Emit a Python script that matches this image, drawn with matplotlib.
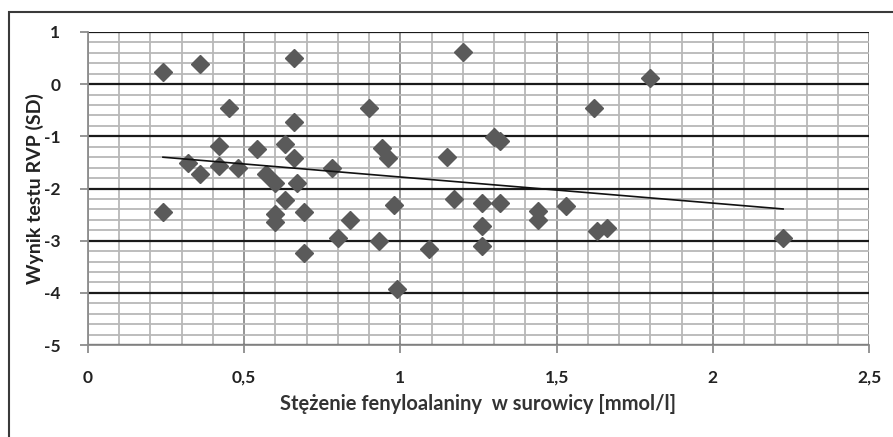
import numpy as np
import matplotlib
matplotlib.use("Agg")
import matplotlib.pyplot as plt
from matplotlib.patches import Rectangle
from matplotlib.ticker import MultipleLocator, FuncFormatter

# Phe concentration [mmol/l] vs RVP score (SD)
phe = [0.24, 0.24, 0.36, 0.45, 0.32, 0.36, 0.42, 0.42, 0.48, 0.54,
       0.57, 0.60, 0.60, 0.60, 0.63, 0.63, 0.66, 0.66, 0.66, 0.67,
       0.69, 0.69, 0.78, 0.80, 0.84, 0.90, 0.93, 0.94, 0.96, 0.98,
       0.99, 1.09, 1.15, 1.17, 1.20, 1.26, 1.26, 1.26, 1.30, 1.32,
       1.32, 1.44, 1.44, 1.53, 1.62, 1.63, 1.66, 1.80, 2.225]
rvp = [0.23, -2.45, 0.38, -0.45, -1.52, -1.72, -1.18, -1.56, -1.61, -1.24,
       -1.73, -1.89, -2.49, -2.64, -1.15, -2.23, 0.51, -0.72, -1.42, -1.89,
       -2.45, -3.23, -1.61, -2.95, -2.61, -0.45, -3.01, -1.23, -1.42, -2.31,
       -3.93, -3.16, -1.39, -2.20, 0.61, -2.27, -2.71, -3.10, -1.02, -1.08,
       -2.27, -2.44, -2.60, -2.34, -0.46, -2.82, -2.76, 0.11, -2.95]

# trend line as drawn in the picture (slope, intercept)
trend_slope = -0.50
trend_intercept = -1.28

plt.rcParams['font.family'] = ['Lato', 'DejaVu Sans']

fig = plt.figure(figsize=(8.93, 4.37), dpi=100)
ax = fig.add_axes([88 / 893, 1 - 345 / 437, 781 / 893, 313 / 437])

# outer chart frame
fig.patches.append(Rectangle((9 / 893, -0.05), 1.0, 1 - 12 / 437 + 0.05,
                             transform=fig.transFigure, fill=False,
                             edgecolor='#3a3a3a', linewidth=1.5))

ax.set_xlim(0, 2.5)
ax.set_ylim(-5, 1)
ax.xaxis.set_major_locator(MultipleLocator(0.5))
ax.xaxis.set_minor_locator(MultipleLocator(0.1))
ax.yaxis.set_major_locator(MultipleLocator(1))
ax.yaxis.set_minor_locator(MultipleLocator(0.2))

ax.grid(which='minor', axis='both', color='#b8b8b8', linewidth=1.3)
ax.grid(which='major', axis='x', color='#8c8c8c', linewidth=1.3)
ax.grid(which='major', axis='y', color='#1a1a1a', linewidth=1.6)
ax.set_axisbelow(True)

for s in ['top', 'right']:
    ax.spines[s].set_visible(False)
ax.spines['left'].set_color('#8c8c8c')
ax.spines['bottom'].set_color('#8c8c8c')
ax.spines['left'].set_linewidth(1.3)
ax.spines['bottom'].set_linewidth(1.3)

ax.tick_params(which='major', direction='out', length=6, width=1.3,
               color='#8c8c8c', labelsize=12.5)
ax.tick_params(which='minor', length=0)
ax.tick_params(axis='x', pad=12)
ax.tick_params(axis='y', pad=14)

comma = FuncFormatter(lambda v, p: ('%g' % v).replace('.', ','))
ax.xaxis.set_major_formatter(comma)
ax.yaxis.set_major_formatter(comma)
for lab in ax.get_xticklabels() + ax.get_yticklabels():
    lab.set_fontweight('bold')
    lab.set_color('#222222')

ax.plot(phe, rvp, linestyle='none', marker='D', markersize=9,
        color='#5a5a5a', zorder=3)

xt = np.array([min(phe), max(phe)])
ax.plot(xt, trend_slope * xt + trend_intercept, color='#111111',
        linewidth=1.2, zorder=4)

ax.set_xlabel('Stężenie fenyloalaniny  w surowicy [mmol/l]', fontsize=14.5,
              fontweight='bold', color='#333333', labelpad=6)
ax.set_ylabel('Wynik testu RVP (SD)', fontsize=14, fontweight='bold',
              color='#222222', labelpad=0)

fig.savefig('out.png', dpi=100)
